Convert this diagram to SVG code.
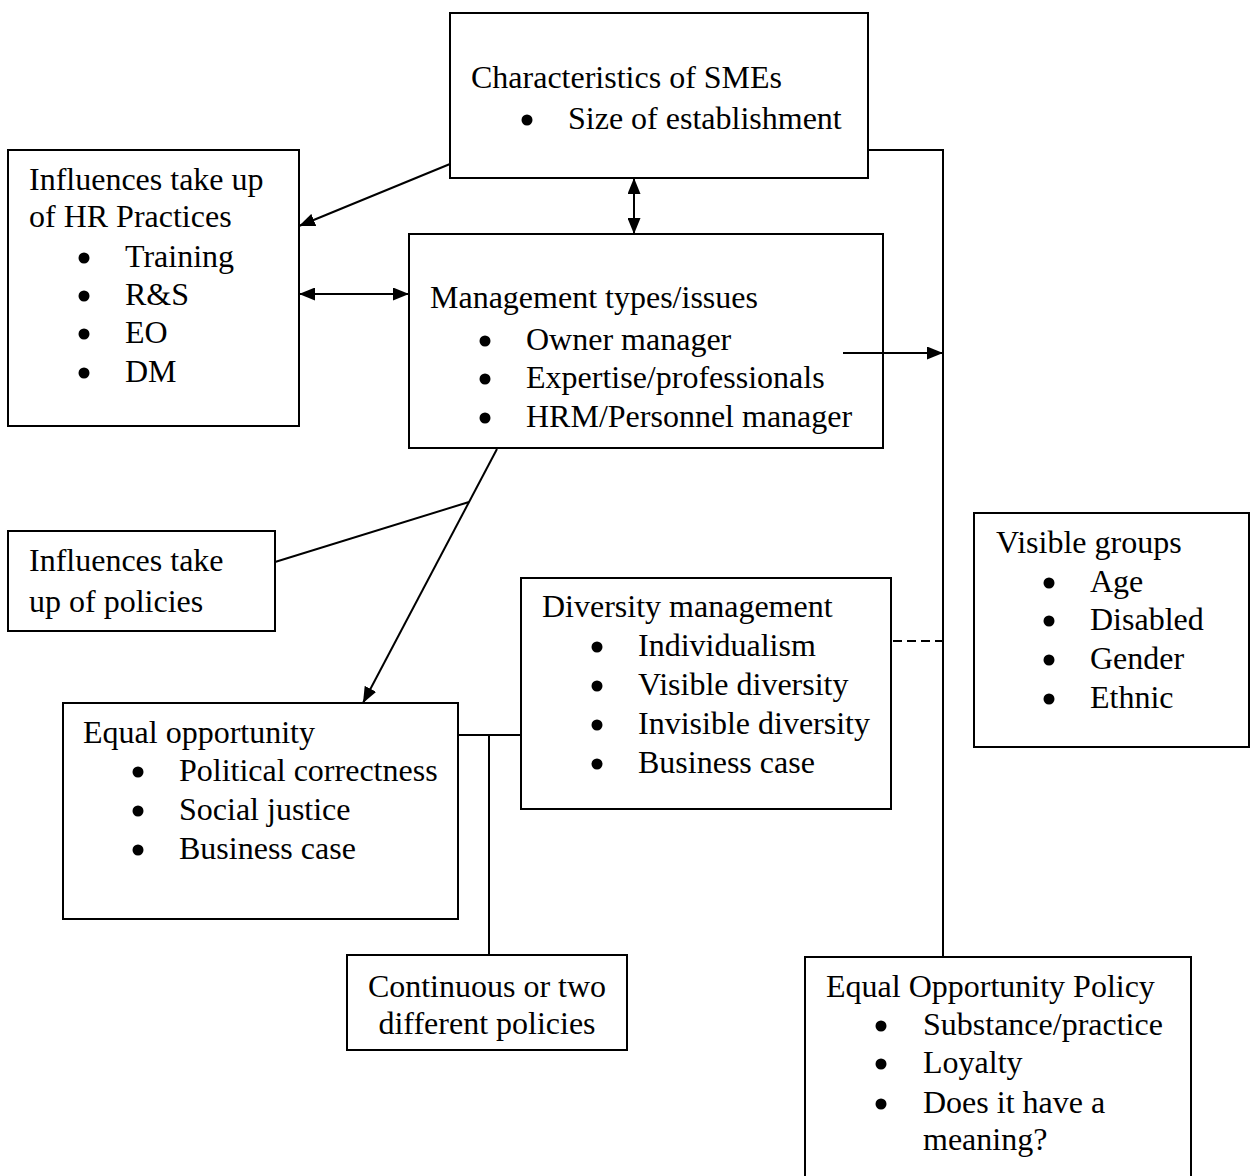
<svg xmlns="http://www.w3.org/2000/svg" width="1251" height="1176" viewBox="0 0 1251 1176">
  <style>
    .box { fill: #ffffff; stroke: #000000; stroke-width: 2; }
    .lbl { font-family: "Liberation Serif", "Times New Roman", serif; font-size: 32px; fill: #000000; }
    .mid { text-anchor: middle; }
    .wire { fill: none; stroke: #000000; stroke-width: 2; }
    .dash { stroke-dasharray: 9 5; }
    .dot { fill: #000000; }
  </style>
  <defs>
    <marker id="head" viewBox="0 0 16 13" refX="16" refY="6.5" markerWidth="16" markerHeight="13" markerUnits="userSpaceOnUse" orient="auto-start-reverse">
      <path d="M0,0 L16,6.5 L0,13 z" fill="#000000"/>
    </marker>
  </defs>

  <rect width="1251" height="1176" fill="#ffffff"/>

  <!-- Characteristics of SMEs -->
  <g id="node-smes">
    <rect class="box" x="450" y="13" width="418" height="165"/>
    <text class="lbl" x="471" y="88">Characteristics of SMEs</text>
    <circle class="dot" cx="527" cy="120" r="5.5"/>
    <text class="lbl" x="568" y="129">Size of establishment</text>
  </g>

  <!-- Influences take up of HR Practices -->
  <g id="node-hr-practices">
    <rect class="box" x="8" y="150" width="291" height="276"/>
    <text class="lbl" x="29" y="190">Influences take up</text>
    <text class="lbl" x="29" y="227">of HR Practices</text>
    <circle class="dot" cx="84" cy="258" r="5.5"/>
    <text class="lbl" x="125" y="267">Training</text>
    <circle class="dot" cx="84" cy="296" r="5.5"/>
    <text class="lbl" x="125" y="305">R&amp;S</text>
    <circle class="dot" cx="84" cy="334" r="5.5"/>
    <text class="lbl" x="125" y="343">EO</text>
    <circle class="dot" cx="84" cy="373" r="5.5"/>
    <text class="lbl" x="125" y="382">DM</text>
  </g>

  <!-- Management types/issues -->
  <g id="node-management">
    <rect class="box" x="409" y="234" width="474" height="214"/>
    <text class="lbl" x="430" y="308">Management types/issues</text>
    <circle class="dot" cx="485" cy="341" r="5.5"/>
    <text class="lbl" x="526" y="350">Owner manager</text>
    <circle class="dot" cx="485" cy="379" r="5.5"/>
    <text class="lbl" x="526" y="388">Expertise/professionals</text>
    <circle class="dot" cx="485" cy="418" r="5.5"/>
    <text class="lbl" x="526" y="427">HRM/Personnel manager</text>
  </g>

  <!-- Influences take up of policies -->
  <g id="node-policies">
    <rect class="box" x="8" y="531" width="267" height="100"/>
    <text class="lbl" x="29" y="571">Influences take</text>
    <text class="lbl" x="29" y="612">up of policies</text>
  </g>

  <!-- Visible groups -->
  <g id="node-visible-groups">
    <rect class="box" x="974" y="513" width="275" height="234"/>
    <text class="lbl" x="996" y="553">Visible groups</text>
    <circle class="dot" cx="1049" cy="583" r="5.5"/>
    <text class="lbl" x="1090" y="592">Age</text>
    <circle class="dot" cx="1049" cy="621" r="5.5"/>
    <text class="lbl" x="1090" y="630">Disabled</text>
    <circle class="dot" cx="1049" cy="660" r="5.5"/>
    <text class="lbl" x="1090" y="669">Gender</text>
    <circle class="dot" cx="1049" cy="699" r="5.5"/>
    <text class="lbl" x="1090" y="708">Ethnic</text>
  </g>

  <!-- Diversity management -->
  <g id="node-diversity">
    <rect class="box" x="521" y="578" width="370" height="231"/>
    <text class="lbl" x="542" y="617">Diversity management</text>
    <circle class="dot" cx="597" cy="647" r="5.5"/>
    <text class="lbl" x="638" y="656">Individualism</text>
    <circle class="dot" cx="597" cy="686" r="5.5"/>
    <text class="lbl" x="638" y="695">Visible diversity</text>
    <circle class="dot" cx="597" cy="725" r="5.5"/>
    <text class="lbl" x="638" y="734">Invisible diversity</text>
    <circle class="dot" cx="597" cy="764" r="5.5"/>
    <text class="lbl" x="638" y="773">Business case</text>
  </g>

  <!-- Equal opportunity -->
  <g id="node-equal-opportunity">
    <rect class="box" x="63" y="703" width="395" height="216"/>
    <text class="lbl" x="83" y="743">Equal opportunity</text>
    <circle class="dot" cx="138" cy="772" r="5.5"/>
    <text class="lbl" x="179" y="781">Political correctness</text>
    <circle class="dot" cx="138" cy="811" r="5.5"/>
    <text class="lbl" x="179" y="820">Social justice</text>
    <circle class="dot" cx="138" cy="850" r="5.5"/>
    <text class="lbl" x="179" y="859">Business case</text>
  </g>

  <!-- Continuous or two different policies -->
  <g id="node-continuous">
    <rect class="box" x="347" y="955" width="280" height="95"/>
    <text class="lbl mid" x="487" y="997">Continuous or two</text>
    <text class="lbl mid" x="487" y="1034">different policies</text>
  </g>

  <!-- Equal Opportunity Policy -->
  <g id="node-eo-policy">
    <rect class="box" x="805" y="957" width="386" height="240"/>
    <text class="lbl" x="826" y="997">Equal Opportunity Policy</text>
    <circle class="dot" cx="881" cy="1026" r="5.5"/>
    <text class="lbl" x="923" y="1035">Substance/practice</text>
    <circle class="dot" cx="881" cy="1064" r="5.5"/>
    <text class="lbl" x="923" y="1073">Loyalty</text>
    <circle class="dot" cx="881" cy="1104" r="5.5"/>
    <text class="lbl" x="923" y="1113">Does it have a</text>
    <text class="lbl" x="923" y="1150">meaning?</text>
  </g>

  <!-- connectors, drawn over the boxes so the arrow out of the management box shows its start inside it -->
  <g id="connectors">
    <line class="wire" x1="450" y1="164" x2="299" y2="226" marker-end="url(#head)"/>
    <line class="wire" x1="299" y1="294" x2="409" y2="294" marker-start="url(#head)" marker-end="url(#head)"/>
    <line class="wire" x1="634" y1="178" x2="634" y2="234" marker-start="url(#head)" marker-end="url(#head)"/>
    <polyline class="wire" points="868,150 943,150 943,957"/>
    <line class="wire" x1="843" y1="353" x2="943" y2="353" marker-end="url(#head)"/>
    <line class="wire" x1="497" y1="449" x2="363" y2="703" marker-end="url(#head)"/>
    <line class="wire" x1="275" y1="562" x2="469" y2="502"/>
    <line class="wire" x1="457" y1="735" x2="521" y2="735"/>
    <line class="wire" x1="489" y1="735" x2="489" y2="955"/>
    <line class="wire dash" x1="893" y1="641" x2="947" y2="641"/>
  </g>
</svg>
